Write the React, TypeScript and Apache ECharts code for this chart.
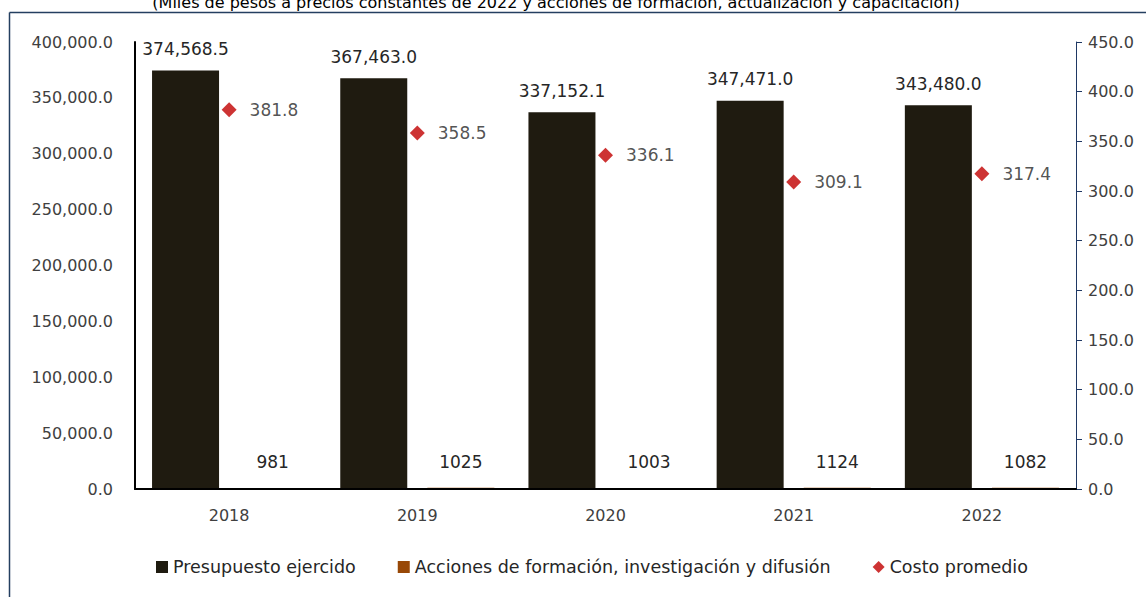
import React, { useEffect, useRef } from "react";
import * as echarts from "echarts";

const years = ["2018", "2019", "2020", "2021", "2022"];
const presupuesto = [374568.5, 367463.0, 337152.1, 347471.0, 343480.0];
const acciones = [981, 1025, 1003, 1124, 1082];
const costoPromedio = [381.8, 358.5, 336.1, 309.1, 317.4];

const titleText =
  "(Miles de pesos a precios constantes de 2022 y acciones de formación, actualización y capacitación)";

const FONT = "DejaVu Sans";
const TXT = "#404040";
const LBL = "#262626";

export default function App() {
  const ref = useRef<HTMLDivElement>(null);
  useEffect(() => {
    document.body.style.margin = "0";
    const chart = echarts.init(ref.current!, null, { renderer: "svg" });
    const fmt1 = (v: number) =>
      v.toLocaleString("en-US", { minimumFractionDigits: 1, maximumFractionDigits: 1 });
    chart.setOption({
      animation: false,
      backgroundColor: "#ffffff",
      textStyle: { fontFamily: FONT },
      grid: { left: 135, right: 70, top: 42, bottom: 108 },
      legend: {
        top: 553,
        left: 151,
        itemGap: 42,
        itemWidth: 12,
        itemHeight: 12,
        textStyle: { fontFamily: FONT, fontSize: 17.5, color: "#262626" },
        data: [
          { name: "Presupuesto ejercido", icon: "rect" },
          { name: "Acciones de formación, investigación y difusión", icon: "rect" },
          { name: "Costo promedio", icon: "diamond" },
        ],
      },
      graphic: [
        {
          type: "line",
          shape: { x1: 9.5, y1: 12.5, x2: 1146, y2: 12.5 },
          style: { stroke: "#243f60", lineWidth: 1.5 },
        },
        {
          type: "line",
          shape: { x1: 9.5, y1: 12.5, x2: 9.5, y2: 597 },
          style: { stroke: "#243f60", lineWidth: 1.5 },
        },
        {
          type: "text",
          x: 556,
          y: 10,
          style: {
            text: titleText,
            fontFamily: FONT,
            fontSize: 16,
            fill: "#000000",
            textAlign: "center",
            textVerticalAlign: "bottom",
          },
        },
      ],
      xAxis: {
        type: "category",
        data: years,
        z: 5,
        axisLine: { lineStyle: { color: "#000000", width: 2 } },
        axisTick: { show: false },
        axisLabel: { fontSize: 16, color: TXT, margin: 18, fontFamily: FONT },
      },
      yAxis: [
        {
          type: "value",
          min: 0,
          max: 400000,
          interval: 50000,
          splitLine: { show: false },
          axisLine: { show: true, lineStyle: { color: "#000000", width: 2 } },
          axisTick: { show: false },
          axisLabel: {
            fontSize: 16,
            color: TXT,
            margin: 22,
            fontFamily: FONT,
            formatter: (v: number) => fmt1(v),
          },
        },
        {
          type: "value",
          min: 0,
          max: 450,
          interval: 50,
          splitLine: { show: false },
          axisLine: { show: true, lineStyle: { color: "#1f3864", width: 1 } },
          axisTick: { show: true, length: 6, lineStyle: { color: "#1f3864" } },
          axisLabel: {
            fontSize: 16,
            color: TXT,
            margin: 12,
            fontFamily: FONT,
            formatter: (v: number) => v.toFixed(1),
          },
        },
      ],
      series: [
        {
          name: "Presupuesto ejercido",
          type: "bar",
          data: presupuesto,
          barWidth: 67,
          barGap: "30%",
          itemStyle: { color: "#1f1b10" },
          label: {
            show: true,
            position: "top",
            distance: 13,
            fontSize: 17,
            color: LBL,
            fontFamily: FONT,
            formatter: (p: any) => fmt1(p.value),
          },
        },
        {
          name: "Acciones de formación, investigación y difusión",
          type: "bar",
          data: acciones,
          barWidth: 67,
          barGap: "30%",
          z: 1,
          itemStyle: { color: "#984807" },
          label: {
            show: true,
            position: "top",
            distance: 17,
            fontSize: 17,
            color: LBL,
            fontFamily: FONT,
            formatter: (p: any) => String(p.value),
          },
        },
        {
          name: "Costo promedio",
          type: "scatter",
          yAxisIndex: 1,
          data: costoPromedio,
          symbol: "diamond",
          symbolSize: 15,
          itemStyle: { color: "#c00000" },
          label: {
            show: true,
            position: "right",
            distance: 13,
            fontSize: 17,
            color: LBL,
            fontFamily: FONT,
            formatter: (p: any) => Number(p.value).toFixed(1),
          },
        },
      ],
    });
    return () => chart.dispose();
  }, []);
  return <div ref={ref} style={{ width: 1146, height: 597 }} />;
}
